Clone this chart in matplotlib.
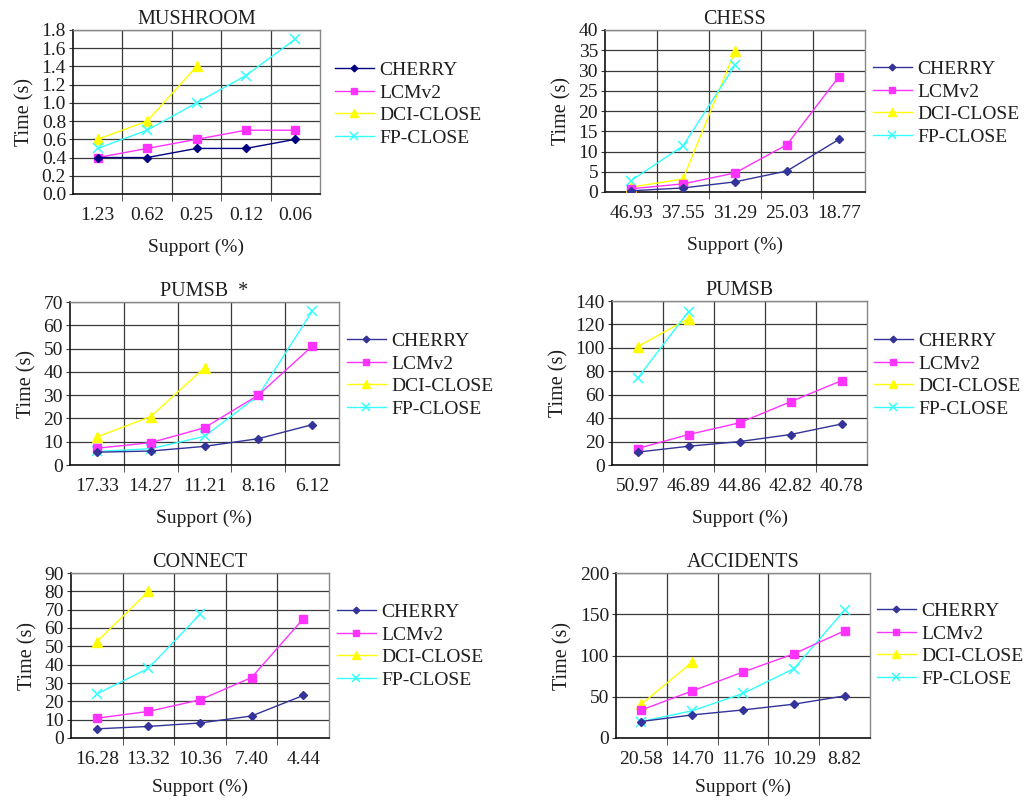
import numpy as np
import matplotlib
matplotlib.use('Agg')
import matplotlib.pyplot as plt

plt.rcParams['font.family'] = ['Liberation Serif', 'DejaVu Serif']

# ---- data ----
mush_x = ['1.23', '0.62', '0.25', '0.12', '0.06']
mush_cherry = [0.4, 0.4, 0.5, 0.5, 0.6]
mush_lcm = [0.4, 0.5, 0.6, 0.7, 0.7]
mush_dci = [0.6, 0.8, 1.4]
mush_fp = [0.5, 0.7, 1.0, 1.3, 1.7]

chess_x = ['46.93', '37.55', '31.29', '25.03', '18.77']
chess_cherry = [0.3, 1.0, 2.5, 5.2, 13.0]
chess_lcm = [0.8, 2.0, 4.7, 11.7, 28.5]
chess_dci = [1.2, 3.2, 34.8]
chess_fp = [2.8, 11.4, 31.3]

pstar_x = ['17.33', '14.27', '11.21', '8.16', '6.12']
pstar_cherry = [5.5, 6.0, 8.0, 11.3, 17.3]
pstar_lcm = [7.2, 9.6, 16.0, 30.0, 51.0]
pstar_dci = [12.0, 20.8, 41.8]
pstar_fp = [5.8, 7.0, 12.3, 29.8, 66.0]

pumsb_x = ['50.97', '46.89', '44.86', '42.82', '40.78']
pumsb_cherry = [11, 16, 20, 26, 35]
pumsb_lcm = [14, 26, 36, 54, 72]
pumsb_dci = [101, 125]
pumsb_fp = [74, 131]

conn_x = ['16.28', '13.32', '10.36', '7.40', '4.44']
conn_cherry = [5.0, 6.3, 8.2, 12.0, 23.2]
conn_lcm = [10.8, 14.5, 20.8, 33.0, 65.0]
conn_dci = [52.5, 80.0]
conn_fp = [24.0, 38.0, 67.5]

acc_x = ['20.58', '14.70', '11.76', '10.29', '8.82']
acc_cherry = [20, 28, 34, 41, 51]
acc_lcm = [34, 57, 80, 102, 130]
acc_dci = [41, 92]
acc_fp = [20, 33, 54, 84, 155]

titles = ['MUSHROOM', 'CHESS', 'PUMSB  *', 'PUMSB', 'CONNECT', 'ACCIDENTS']
ymax = [1.8, 40, 70, 140, 90, 200]
ystep = [0.2, 5, 10, 20, 10, 50]

# axes rectangles in pixels: left, top, right, bottom
rects_px = [(73, 30, 320, 194), (605, 30, 865, 192),
            (70, 302, 339, 465), (612, 301, 867, 465),
            (71, 573, 329, 738), (616, 573, 870, 738)]
legend_px = [(335, 104), (873, 103), (347, 375), (874, 375), (337, 646), (877, 645)]

W, H = 1028, 800
fig = plt.figure(figsize=(W / 100, H / 100), dpi=100)

datasets = [
    (mush_x, mush_cherry, mush_lcm, mush_dci, mush_fp),
    (chess_x, chess_cherry, chess_lcm, chess_dci, chess_fp),
    (pstar_x, pstar_cherry, pstar_lcm, pstar_dci, pstar_fp),
    (pumsb_x, pumsb_cherry, pumsb_lcm, pumsb_dci, pumsb_fp),
    (conn_x, conn_cherry, conn_lcm, conn_dci, conn_fp),
    (acc_x, acc_cherry, acc_lcm, acc_dci, acc_fp),
]

txt = '#1e1e1e'
grid_c = '#3a3a3a'

for i, (xl, cherry, lcm, dci, fp) in enumerate(datasets):
    l, t, r, b = rects_px[i]
    ax = fig.add_axes([l / W, 1 - b / H, (r - l) / W, (b - t) / H])
    cherry_c = '#000080' if i == 0 else '#333399'
    ax.plot(range(len(cherry)), cherry, color=cherry_c, marker='D', ms=4.5, lw=1, label='CHERRY', zorder=5)
    ax.plot(range(len(lcm)), lcm, color='#FF33FF', marker='s', ms=6, lw=1, label='LCMv2', zorder=4)
    ax.plot(range(len(dci)), dci, color='#FFFF00', marker='^', ms=7, lw=1, label='DCI-CLOSE', zorder=3)
    ax.plot(range(len(fp)), fp, color='#33FFFF', marker='x', ms=7.5, mew=1.1, lw=1, label='FP-CLOSE', zorder=3)

    ax.set_xlim(-0.5, 4.5)
    ax.set_ylim(0, ymax[i])
    yt = np.arange(0, ymax[i] + ystep[i] / 2, ystep[i])
    ax.set_yticks(yt)
    if i == 0:
        ax.set_yticklabels([f'{v:.1f}' for v in yt])
    else:
        ax.set_yticklabels([f'{v:g}' for v in yt])
    ax.set_xticks(range(5))
    ax.set_xticklabels(xl)
    ax.set_xticks(np.arange(0.5, 4.5, 1), minor=True)
    ax.tick_params(axis='x', which='major', length=0, pad=9, labelsize=14, labelcolor=txt)
    ax.tick_params(axis='x', which='minor', length=5, color=grid_c, direction='out')
    ax.tick_params(axis='y', length=3, color=grid_c, pad=2, labelsize=14, labelcolor=txt)
    ax.grid(True, axis='y', which='major', color=grid_c, lw=0.9)
    ax.grid(True, axis='x', which='minor', color=grid_c, lw=0.9)
    ax.set_axisbelow(True)
    for s in ['left', 'bottom']:
        ax.spines[s].set_color('#111111')
        ax.spines[s].set_linewidth(1.2)
    for s in ['top', 'right']:
        ax.spines[s].set_color('#888888')
        ax.spines[s].set_linewidth(1.0)

    ax.set_title(titles[i], fontsize=14.5, color=txt, pad=4)
    ax.set_xlabel('Support (%)', fontsize=14, color=txt, labelpad=8 if i >= 4 else 11)
    ax.set_ylabel('Time (s)', fontsize=14.5, color=txt, labelpad=5)

    lx, ly = legend_px[i]
    ax.legend(loc='center left', bbox_to_anchor=(lx / W, 1 - ly / H), bbox_transform=fig.transFigure,
              frameon=False, fontsize=14, borderpad=0, borderaxespad=0, handlelength=2.0,
              handletextpad=0.3, labelspacing=0.25, markerscale=0.75, labelcolor=txt)

fig.savefig('out.png', dpi=100)
